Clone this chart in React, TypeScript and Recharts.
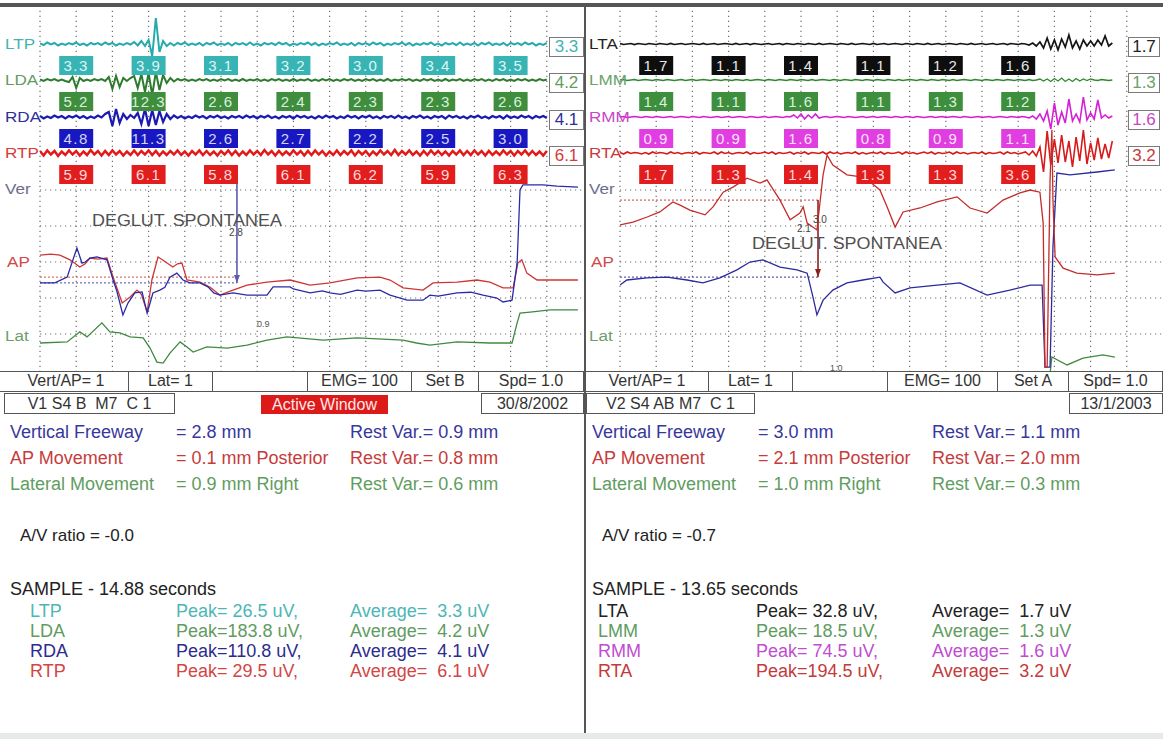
import { ComposedChart, Line, XAxis, YAxis, ReferenceLine, ReferenceDot } from "recharts"

const FONT = '"Liberation Sans", Arial, sans-serif'

// EMG samples are 0.1 s apart, the averages are taken over 2 s windows
const EMG_DT = 0.1
const SECONDS = [0, 1, 2, 3, 4, 5, 6, 7, 8, 9, 10, 11, 12, 13, 14]
const WINDOW_CENTRES = [1, 3, 5, 7, 9, 11, 13]
const MM_ROWS = [1, 2, 3, 4, 5]

// ---- V1 S4 B M7 C1, 30/8/2002 (uV around each channel's zero) ----
const ltp = [
  0.5, -1, 1.5, -0.5, 1, -1.5, 0.5, -1, 1, -0.5, 1.5, -1, 0.5, -1.5, 1, -0.5, 1, -1, 1.5, -0.5,
  1, -1.5, 0.5, -1, 1, -0.5, 2, -1.5, 3, -2, 4, -12, 26, -8, 3, -2, 1, -1.5, 1, -0.5,
  1.5, -1, 0.5, -1, 1, -1.5, 1, -0.5, 1.5, -1, 0.5, -1, 1, -1.5, 1, -0.5, 1, -1, 1.5, -1,
  0.5, -1.5, 1, -0.5, 1, -1, 1.5, -0.5, 1, -1.5, 0.5, -1, 1, -0.5, 1.5, -1, 1, -1.5, 0.5, -1,
  1, -0.5, 1.5, -1, 0.5, -1, 1, -1.5, 1, -0.5, 1, -1, 1.5, -0.5, 1, -1.5, 0.5, -1, 1, -0.5,
  1.5, -1, 1, -1.5, 0.5, -1, 1, -0.5, 1.5, -1, 0.5, -1.5, 1, -0.5, 1, -1, 1.5, -1, 0.5, -1,
  1, -1.5, 1, -0.5, 1.5, -1, 0.5, -1, 1, -1.5, 1, -0.5, 1, -1, 1.5, -0.5, 1, -1.5, 0.5, -1, 1,
]
const lda = [
  0.5, -1, 1, -0.5, 1, -1, 0.5, -1, -2, 3, -8, 2, -1, 0.5, -1, 1, -0.5, 1, -1, 3,
  -9, 4, -7, 2, -1, 2, 4, -8, 6, -12, 7, -15, 8, -10, 5, -3, 2, -1.5, 1, -0.5,
  1, -1, 0.5, -1, 1, -0.5, 1, -1, 0.5, -1, 1, -0.5, 1, -1, 0.5, -1, 1, -1, 0.5, -0.5,
  1, -1, 0.5, -1, 1, -0.5, 1, -1, 0.5, -1, 1, -1, 0.5, -0.5, 1, -1, 0.5, -1, 1, -0.5,
  1, -1, 0.5, -1, 1, -0.5, 1, -1, 0.5, -1, 1, -0.5, 1, -1, 0.5, -1, 1, -1, 0.5, -0.5,
  1, -0.5, 1, -1, 0.5, -1, 1, -0.5, 1, -1, 0.5, -1, 1, -1, 0.5, -0.5, 1, -1, 0.5, -1,
  1, -0.5, 1, -1, 0.5, -1, 1, -0.5, 1, -1, 0.5, -1, 1, -0.5, 1, -1, 0.5, -1, 1, -0.5, 0.5,
]
const rda = [
  1, -1.5, 0.5, -1, 1.5, -0.5, 1, -1.5, 1, -0.5, 1.5, -1, 1, -1.5, 0.5, -1, 1.5, -0.5, 3, 5,
  -9, 8, -6, 3, -2, 2, -1, 4, -7, 8, -9, 7, -8, 6, -5, 3, -2, 1.5, -1, 1,
  -1.5, 0.5, -1, 1.5, -0.5, 1, -1.5, 1, -0.5, 1.5, -1, 0.5, -1.5, 1, -0.5, 1, -1, 1.5, -0.5, 1,
  -1.5, 1, -0.5, 1.5, -1, 0.5, -1.5, 1, -0.5, 1, -1.5, 1.5, -0.5, 1, -1, 0.5, -1.5, 1, -1, 1.5,
  -0.5, 1, -1.5, 0.5, -1, 1.5, -0.5, 1, -1.5, 1, -0.5, 1.5, -1, 0.5, -1.5, 1, -0.5, 1, -1, 1.5,
  -1, 0.5, -1.5, 1, -0.5, 1.5, -1, 0.5, -1.5, 1, -0.5, 1, -1.5, 1.5, -0.5, 1, -1, 0.5, -1.5, 1,
  -0.5, 1.5, -1, 0.5, -1.5, 1, -0.5, 1, -1.5, 1.5, -1, 0.5, -1, 1.5, -0.5, 1, -1.5, 1, -0.5, 1, -1,
]
const rtp = [
  2, -2.5, 2.5, -1.5, 2, -3, 1.5, -2, 2.5, -1.5, 2, -2.5, 1.5, -2, 3, -1.5, 2, -2.5, 2, -2,
  2.5, -1.5, 2, -2.5, 1.5, -2, 2.5, -2, 2, -1.5, 2.5, -2, 2, -2.5, 1.5, -2, 2, -1.5, 2.5, -2,
  1.5, -2.5, 2, -1.5, 2.5, -2, 2, -2, 1.5, -2.5, 2, -1.5, 2.5, -2, 2, -2.5, 1.5, -2, 2.5, -1.5,
  2, -2, 3, -1.5, 2, -2.5, 2, -2, 1.5, -2, 2.5, -1.5, 2, -2.5, 2, -2, 2.5, -1.5, 2, -2.5,
  1.5, -2, 2.5, -2, 2, -1.5, 2.5, -2.5, 2, -1.5, 2, -2.5, 1.5, -2, 2.5, -1.5, 2, -2, 3, -2,
  2, -1.5, 2.5, -2, 1.5, -2.5, 2, -2, 2.5, -1.5, 2, -2, 1.5, -2.5, 2, -1.5, 2.5, -2, 2, -2,
  2.5, -1.5, 2, -2.5, 2, -2, 1.5, -2, 2.5, -1.5, 2, -2.5, 2, -1.5, 2.5, -2, 2, -2, 1.5, -2.5, 2,
]
const ltpAvg = [3.3, 3.9, 3.1, 3.2, 3.0, 3.4, 3.5]
const ldaAvg = [5.2, 12.3, 2.6, 2.4, 2.3, 2.3, 2.6]
const rdaAvg = [4.8, 11.3, 2.6, 2.7, 2.2, 2.5, 3.0]
const rtpAvg = [5.9, 6.1, 5.8, 6.1, 6.2, 5.9, 6.3]

// jaw tracking, [seconds, mm]
const v1Ver: [number, number][] = [
  [0, 2.42], [0.41, 2.42], [0.75, 2.58], [1.02, 3.39], [1.16, 2.97], [1.25, 3.0], [1.38, 3.11], [1.57, 3.14],
  [1.85, 3.06], [2.02, 2.5], [2.12, 2.2], [2.29, 1.53], [2.43, 1.86], [2.62, 2.14], [2.82, 2.17], [2.96, 1.58],
  [3.12, 2.14], [3.31, 2.22], [3.45, 2.3], [3.59, 2.58], [3.78, 2.69], [3.95, 2.5], [4.14, 2.42], [4.42, 2.42],
  [4.64, 2.31], [4.8, 2.14], [4.97, 2.08], [5.33, 2.14], [5.72, 2.08], [6.27, 2.08], [6.44, 2.31], [6.91, 2.31],
  [7.0, 2.25], [7.46, 2.14], [7.8, 2.2], [8.01, 2.14], [8.3, 2.1], [8.76, 2.22], [9.0, 2.19], [9.39, 2.22],
  [9.67, 2.08], [10.14, 1.94], [10.58, 1.94], [10.77, 2.08], [11.0, 2.05], [11.52, 2.14], [11.9, 2.16],
  [12.24, 2.08], [12.62, 2.0], [12.79, 1.89], [13.04, 1.94], [13.18, 2.97], [13.26, 5.0], [13.34, 5.14],
  [13.9, 5.14], [14.28, 5.11], [14.86, 5.08],
]
const v1Ap: [number, number][] = [
  [0, 3.19], [0.3, 3.22], [0.55, 3.19], [0.83, 3.06], [1.1, 2.86], [1.25, 2.95], [1.38, 3.11], [1.6, 3.08],
  [1.85, 3.11], [2.02, 2.58], [2.27, 1.86], [2.49, 2.03], [2.68, 2.22], [2.8, 2.1], [2.96, 1.61], [3.09, 2.5],
  [3.26, 3.14], [3.4, 3.05], [3.51, 2.97], [3.67, 2.86], [3.8, 2.95], [3.92, 2.97], [4.06, 2.5], [4.42, 2.44],
  [4.7, 2.3], [4.97, 2.08], [5.33, 2.22], [5.72, 2.36], [6.27, 2.44], [6.91, 2.5], [7.46, 2.36], [8.01, 2.42],
  [8.76, 2.56], [9.39, 2.58], [9.67, 2.5], [10.03, 2.28], [10.58, 2.22], [10.86, 2.42], [11.52, 2.44],
  [12.07, 2.5], [12.43, 2.44], [12.79, 2.28], [13.07, 2.28], [13.2, 2.97], [13.31, 3.06], [13.45, 2.69],
  [13.73, 2.5], [14.28, 2.5], [14.86, 2.5],
]
const v1Lat: [number, number][] = [
  [0, 0.75], [0.75, 0.78], [1.1, 1.06], [1.3, 0.92], [1.71, 1.31], [1.93, 1.06], [2.21, 1.03], [2.49, 0.92],
  [2.85, 0.89], [3.04, 0.61], [3.23, 0.22], [3.4, 0.19], [3.59, 0.47], [3.87, 0.78], [4.06, 0.64], [4.23, 0.5],
  [4.61, 0.64], [5.17, 0.61], [5.72, 0.69], [6.27, 0.83], [6.82, 0.92], [7.82, 0.83], [8.76, 0.89], [10.03, 0.83],
  [10.4, 0.75], [10.77, 0.69], [11.52, 0.78], [12.43, 0.75], [13.04, 0.75], [13.18, 1.31], [13.26, 1.58],
  [13.54, 1.61], [14.09, 1.67], [14.86, 1.67],
]

// ---- V2 S4 AB M7 C1, 13/1/2003 ----
const lta = [
  0.5, -0.5, 0, 0.5, -0.5, 0.5, 0, -0.5, 0.5, 0, -0.5, 0.5, 0, -0.5, 0.5, -0.5, 0, 0.5, -0.5, 0,
  0.5, 0, -0.5, 0.5, -0.5, 0, 0.5, -0.5, 0, 0.5, 0, -0.5, 0.5, -0.5, 0, 0.5, -0.5, 0.5, 0, -0.5,
  0, 0.5, -0.5, 0, 0.5, -0.5, 0.5, 0, -0.5, 0.5, 0, -0.5, 0.5, 0, -0.5, 0.5, -0.5, 0, 0.5, 0,
  -0.5, 0.5, 0, -0.5, 0.5, -0.5, 0, 0.5, 0, -0.5, 0.5, -0.5, 0, 0.5, -0.5, 0, 0.5, 0, -0.5, 0.5,
  0, -0.5, 0.5, 0, -0.5, 0.5, -0.5, 0, 0.5, -0.5, 0, 0.5, 0, -0.5, 0.5, 0, -0.5, 0.5, -0.5, 0,
  0.5, -0.5, 0, 0.5, -0.5, 0, 0.5, -0.5, 0.5, 0, -0.5, 0.5, 0, -1, 1, -2, 2, -4, 6, -5,
  4, -6, 5, -3, 9, -4, 3, -5, 4, -2, 3, -2, 4, -1, 8, -2, 1,
]
const lmm = [
  0, 0.5, -0.5, 0, 0.5, -0.5, 0, 0.5, 0, -0.5, 0.5, 0, -0.5, 0.5, 0, -0.5, 0, 0.5, -0.5, 0,
  0.5, -0.5, 0, 0.5, 0, -0.5, 0.5, 0, -0.5, 0.5, 0, -0.5, 0.5, 0, -0.5, 0.5, -0.5, 0, 0.5, 0,
  -0.5, 0.5, 0, -0.5, 0.5, 0, -0.5, 0.5, 0, -0.5, 0.5, 0, -0.5, 0.5, -0.5, 0, 0.5, 0, -0.5, 0.5,
  0, -0.5, 0.5, 0, -0.5, 0.5, 0, -0.5, 0.5, 0, -0.5, 0.5, 0, -0.5, 0.5, 0, -0.5, 0.5, -0.5, 0,
  0.5, 0, -0.5, 0.5, 0, -0.5, 0.5, 0, -0.5, 0.5, 0, -0.5, 0.5, -0.5, 0, 0.5, 0, -0.5, 0.5, 0,
  -0.5, 0.5, 0, -0.5, 0.5, 0, -0.5, 0.5, 0, -0.5, 0.5, 0, -0.5, 0.5, -0.5, 0, 1, -1, 1, -1.5,
  1.5, -1, 2, -1.5, 1, -1.5, 1.5, -1, 1, -0.5, 1, 0, -0.5, 0.5, 0, -0.5, 0,
]
const rmm = [
  0, 0.5, -0.5, 0, 0.5, 0, -0.5, 0.5, 0, -0.5, 0.5, 0, -0.5, 0, 0.5, -0.5, 0, 0.5, 0, -0.5,
  0.5, 0, -0.5, 0.5, 0, -0.5, 0, 0.5, -0.5, 0, 0.5, -0.5, 0, 0.5, 0, -0.5, 0.5, 0, -0.5, 0,
  0.5, -0.5, 0, 0.5, 0, -0.5, 0.5, 0, 2, -1, 3, -2, 2, -1, 3, -1, 0, 0.5, -0.5, 0,
  0.5, 0, -0.5, 0.5, 0, -0.5, 0, 0.5, -0.5, 0, 0.5, -0.5, 0, 0.5, 0, -0.5, 0.5, 0, -0.5, 0.5,
  0, -0.5, 0.5, 0, -0.5, 0, 0.5, -0.5, 0, 0.5, -0.5, 0, 0.5, 0, -0.5, 0.5, 0, -0.5, 0, 0.5,
  -0.5, 0, 0.5, -0.5, 0, 0.5, 0, -0.5, 0.5, 0, -0.5, 0.5, 0, -1, 1, -2, 3, -4, 6, -12,
  14, -8, 5, -6, 18, -4, 3, -5, 20, -3, 4, -2, 17, -1, 2, -1, 1,
]
const rta = [
  0.5, -1, 1, -0.5, 0.5, 0, -1, 0.5, -1, 1, -0.5, 0.5, 0, -1, 1, -0.5, 0.5, -1, 0, 0.5,
  -0.5, 1, -1, 0.5, 0, -0.5, 1, -1, 1, -0.5, 0.5, -1, 0, 0.5, -0.5, 1, -1, 0.5, -0.5, 0,
  1, -0.5, 1, -1, 0.5, -0.5, 0, 1, -1, 0.5, -0.5, 1, -1, 0.5, 0, -0.5, 1, -1, 1, -0.5,
  0.5, -1, 0, 0.5, -0.5, 1, -1, 0.5, -1, 0, 0.5, -0.5, 1, -1, 0.5, -0.5, 0, 1, -1, 1,
  -0.5, 0.5, -1, 0, 1, -0.5, 1, -1, 0.5, -0.5, 0, 1, -1, 1, -0.5, 0.5, -1, 0, 0.5, -0.5,
  1, -1, 0.5, -0.5, 0, 1, -1, 1, -0.5, 0.5, -1, 0, 1, -2, 2, -3, 6, -19, 22, -12,
  14, -10, 18, -9, 12, -14, 16, -8, 23, -11, 10, -7, 15, -6, 9, -5, 12,
]
const ltaAvg = [1.7, 1.1, 1.4, 1.1, 1.2, 1.6]
const lmmAvg = [1.4, 1.1, 1.6, 1.1, 1.3, 1.2]
const rmmAvg = [0.9, 0.9, 1.6, 0.8, 0.9, 1.1]
const rtaAvg = [1.7, 1.3, 1.4, 1.3, 1.3, 3.6]

const v2Ver: [number, number][] = [
  [0, 4.03], [0.36, 4.11], [0.75, 4.25], [1.1, 4.39], [1.46, 4.67], [1.66, 4.58], [1.93, 4.44], [2.35, 4.31],
  [2.57, 4.53], [2.85, 4.94], [3.12, 5.08], [3.51, 5.33], [3.87, 5.19], [4.06, 5.28], [4.42, 4.72], [4.7, 4.17],
  [4.97, 4.36], [5.06, 4.53], [5.17, 4.08], [5.44, 3.89], [5.61, 5.42], [5.72, 5.97], [5.88, 5.69], [6.27, 5.42],
  [6.71, 5.36], [6.91, 5.22], [7.18, 5.0], [7.38, 4.53], [7.6, 3.97], [7.82, 4.39], [8.29, 4.5], [8.76, 4.67],
  [9.31, 4.81], [9.67, 4.5], [10.14, 4.36], [10.58, 4.72], [11.05, 4.92], [11.33, 5.0], [11.6, 4.94],
  [11.69, 4.08], [11.74, 0.08], [11.8, 0.08], [11.88, 5.28], [11.93, 6.67], [11.96, 4.72], [12.02, 3.14],
  [12.24, 2.83], [12.62, 2.69], [13.18, 2.64], [13.67, 2.69],
]
const v2Ap: [number, number][] = [
  [0, 2.36], [0.19, 2.5], [0.75, 2.56], [1.3, 2.58], [1.85, 2.5], [2.29, 2.42], [2.76, 2.56], [3.23, 2.78],
  [3.59, 3.0], [3.95, 3.06], [4.42, 2.86], [4.89, 2.78], [5.17, 2.69], [5.33, 2.03], [5.44, 1.53], [5.61, 1.94],
  [5.88, 2.22], [6.27, 2.42], [6.71, 2.5], [7.18, 2.58], [7.27, 2.44], [7.6, 2.14], [8.01, 2.28], [8.76, 2.36],
  [9.39, 2.42], [10.14, 2.08], [10.77, 2.22], [11.33, 2.36], [11.66, 2.36], [11.74, 0.08], [11.88, 0.08],
  [11.96, 3.42], [12.07, 5.47], [12.43, 5.42], [13.18, 5.5], [13.67, 5.56],
]
const v2Lat: [number, number][] = [
  [11.86, -0.3], [11.93, 0.36], [12.35, 0.14], [12.79, 0.33], [13.34, 0.42], [13.67, 0.36],
]

// ---- layout ----
const PLOT_TOP = 8
const PLOT_H = 364
const MM_PX = 36
const MM_ZERO_ROW = 370

const pxDomain = (row: number, unitPx: number): [number, number] => [
  (row - PLOT_TOP - PLOT_H) / unitPx,
  (row - PLOT_TOP) / unitPx,
]
const emgRows = (values: number[]) => values.map((v, i) => ({ t: Math.round(i * EMG_DT * 10) / 10, v }))
const pairRows = (pts: [number, number][]) => pts.map(([t, v]) => ({ t, v }))

type Emg = {
  name: string
  values: number[]
  avgs: number[]
  total: number
  row: number
  line: string
  width: number
  box: string
  ink: string
  tag: string
}
type Move = { name: string; points: [number, number][]; color: string }
type Rest = { mm: number; until: number; color: string }
type Marker = { t: number; from: number; to: number; color: string }

const v1Channels: Emg[] = [
  { name: "LTP", values: ltp, avgs: ltpAvg, total: 3.3, row: 44, line: "#26abab", width: 2, box: "#38b4b4", ink: "#dcf7f7", tag: "#43b3b3" },
  { name: "LDA", values: lda, avgs: ldaAvg, total: 4.2, row: 80, line: "#2d7c2d", width: 2, box: "#3e8e3e", ink: "#dcf0dc", tag: "#5f9c5f" },
  { name: "RDA", values: rda, avgs: rdaAvg, total: 4.1, row: 117, line: "#1b1bb2", width: 2.2, box: "#1818c2", ink: "#d4d4f6", tag: "#2e2e9c" },
  { name: "RTP", values: rtp, avgs: rtpAvg, total: 6.1, row: 153, line: "#e31818", width: 2.5, box: "#e21d1d", ink: "#ffd8d8", tag: "#d63b3b" },
]
const v2Channels: Emg[] = [
  { name: "LTA", values: lta, avgs: ltaAvg, total: 1.7, row: 44, line: "#151515", width: 1.7, box: "#0e0e0e", ink: "#e8e8e8", tag: "#222222" },
  { name: "LMM", values: lmm, avgs: lmmAvg, total: 1.3, row: 80, line: "#2f8a2f", width: 1.3, box: "#3d8f3d", ink: "#dff0df", tag: "#6aa26a" },
  { name: "RMM", values: rmm, avgs: rmmAvg, total: 1.6, row: 117, line: "#d41fd4", width: 1.6, box: "#e03ee0", ink: "#ffe2ff", tag: "#c646c6" },
  { name: "RTA", values: rta, avgs: rtaAvg, total: 3.2, row: 153, line: "#d81a1a", width: 1.6, box: "#e21d1d", ink: "#ffd8d8", tag: "#c83a3a" },
]

const v1Moves: Move[] = [
  { name: "Lat", points: v1Lat, color: "#3f8a3f" },
  { name: "AP", points: v1Ap, color: "#cf3535" },
  { name: "Ver", points: v1Ver, color: "#2b2ba8" },
]
const v2Moves: Move[] = [
  { name: "Lat", points: v2Lat, color: "#3f8a3f" },
  { name: "AP", points: v2Ap, color: "#2b2b9c" },
  { name: "Ver", points: v2Ver, color: "#c42c2c" },
]

function avgBox(p: any, c: Emg, avg: number) {
  return (
    <g>
      <rect x={p.cx - 17} y={p.cy + 12} width={34} height={19} fill={c.box} />
      <text
        x={p.cx}
        y={p.cy + 27}
        textAnchor="middle"
        fill={c.ink}
        fontSize={15}
        letterSpacing={1.5}
        fontFamily={FONT}
      >
        {avg.toFixed(1)}
      </text>
    </g>
  )
}

function arrowHead(p: any, color: string) {
  return <polygon points={`${p.cx - 3},${p.cy - 8} ${p.cx + 3},${p.cy - 8} ${p.cx},${p.cy}`} fill={color} />
}

function Recording(props: {
  width: number
  left: number
  channels: Emg[]
  moves: Move[]
  rests: Rest[]
  marker: Marker
}) {
  const { width, left, channels, moves, rests, marker } = props
  return (
    <ComposedChart width={width} height={PLOT_H} margin={{ top: 0, right: 0, bottom: 0, left }}>
      <XAxis type="number" dataKey="t" domain={[0, 15]} hide allowDataOverflow />
      <YAxis yAxisId="mm" type="number" domain={pxDomain(MM_ZERO_ROW, MM_PX)} hide allowDataOverflow />
      {channels.map((c) => (
        <YAxis key={c.name} yAxisId={c.name} type="number" domain={pxDomain(c.row, 1)} hide allowDataOverflow />
      ))}
      {SECONDS.map((s) => (
        <ReferenceLine key={`s${s}`} x={s} yAxisId="mm" stroke="#6f6f6f" strokeWidth={1.2} strokeDasharray="1.2 3.8" />
      ))}
      {MM_ROWS.map((r) => (
        <ReferenceLine key={`r${r}`} y={r} yAxisId="mm" stroke="#6f6f6f" strokeWidth={1.2} strokeDasharray="1.2 3.8" />
      ))}
      {rests.map((r, i) => (
        <ReferenceLine
          key={`rest${i}`}
          yAxisId="mm"
          segment={[{ x: 0, y: r.mm }, { x: r.until, y: r.mm }]}
          stroke={r.color}
          strokeDasharray="2 2"
        />
      ))}
      <ReferenceLine
        yAxisId="mm"
        segment={[{ x: marker.t, y: marker.from }, { x: marker.t, y: marker.to }]}
        stroke={marker.color}
        strokeWidth={1.6}
      />
      {channels.map((c) => (
        <Line
          key={c.name}
          yAxisId={c.name}
          data={emgRows(c.values)}
          dataKey="v"
          type="linear"
          stroke={c.line}
          strokeWidth={c.width}
          dot={false}
          isAnimationActive={false}
        />
      ))}
      {moves.map((m) => (
        <Line
          key={m.name}
          yAxisId="mm"
          data={pairRows(m.points)}
          dataKey="v"
          type="linear"
          stroke={m.color}
          strokeWidth={1.3}
          dot={false}
          isAnimationActive={false}
        />
      ))}
      <ReferenceDot
        x={marker.t}
        y={marker.to}
        yAxisId="mm"
        r={0}
        ifOverflow="visible"
        shape={(p: any) => arrowHead(p, marker.color)}
      />
      {channels.flatMap((c) =>
        c.avgs.map((a, i) => (
          <ReferenceDot
            key={`${c.name}${i}`}
            x={WINDOW_CENTRES[i]}
            y={0}
            yAxisId={c.name}
            r={0}
            ifOverflow="visible"
            shape={(p: any) => avgBox(p, c, a)}
          />
        ))
      )}
    </ComposedChart>
  )
}

function Txt(props: {
  x: number
  y: number
  size: number
  color: string
  stretch?: number
  children: any
}) {
  const { x, y, size, color, stretch = 1, children } = props
  return (
    <div
      style={{
        position: "absolute",
        left: x,
        top: y - size * 0.5,
        fontSize: size,
        lineHeight: 1,
        color,
        whiteSpace: "pre",
        transform: `scaleX(${stretch})`,
        transformOrigin: "left center",
      }}
    >
      {children}
    </div>
  )
}

function Cell(props: { x0: number; x1: number; y: number; h: number; text: string; box?: boolean }) {
  const { x0, x1, y, h, text, box } = props
  return (
    <div
      style={{
        position: "absolute",
        left: x0,
        top: y,
        width: x1 - x0,
        height: h,
        boxSizing: "border-box",
        border: box ? "1px solid #555" : undefined,
        borderRight: "1px solid #555",
        fontSize: 16,
        lineHeight: `${h - 2}px`,
        textAlign: "center",
        color: "#333",
        whiteSpace: "pre",
      }}
    >
      {text}
    </div>
  )
}

function StatusRow(props: { x: number; width: number; cells: [string, number, number][] }) {
  return (
    <>
      <div
        style={{
          position: "absolute",
          left: props.x,
          top: 371,
          width: props.width,
          height: 21,
          borderTop: "1px solid #555",
          borderBottom: "1px solid #555",
          boxSizing: "border-box",
        }}
      />
      {props.cells.map(([t, a, b]) => (
        <Cell key={`${t}${a}`} x0={a} x1={b} y={371} h={21} text={t} />
      ))}
    </>
  )
}

function Summary(props: {
  x: number
  freeway: string[]
  ap: string[]
  lat: string[]
  ratio: string
  sample: string
  rows: [string, string, string, string][]
  labelX: number
  peakX: number
}) {
  const { x, freeway, ap, lat, ratio, sample, rows, labelX, peakX } = props
  const lines: [string[], string, number][] = [
    [freeway, "#37379c", 432],
    [ap, "#c63b3b", 458],
    [lat, "#5f9d5f", 484],
  ]
  return (
    <>
      {lines.map(([parts, color, y]) => (
        <div key={y}>
          <Txt x={x} y={y} size={18} color={color}>{parts[0]}</Txt>
          <Txt x={x + 166} y={y} size={18} color={color}>{parts[1]}</Txt>
          <Txt x={x + 340} y={y} size={18} color={color}>{parts[2]}</Txt>
        </div>
      ))}
      <Txt x={x + 10} y={535} size={17} color="#222">{ratio}</Txt>
      <Txt x={x} y={589} size={18} color="#222">{sample}</Txt>
      {rows.map(([name, peak, avg, color], i) => (
        <div key={name}>
          <Txt x={labelX} y={611 + i * 20} size={18} color={color}>{name}</Txt>
          <Txt x={peakX} y={611 + i * 20} size={18} color={color}>{peak}</Txt>
          <Txt x={x + 340} y={611 + i * 20} size={18} color={color}>{avg}</Txt>
        </div>
      ))}
    </>
  )
}

function TotalBox(props: { x: number; y: number; w: number; value: number; color: string }) {
  return (
    <div
      style={{
        position: "absolute",
        left: props.x,
        top: props.y,
        width: props.w,
        height: 20,
        boxSizing: "border-box",
        border: "1px solid #7a7a7a",
        background: "#fff",
        color: props.color,
        fontSize: 17,
        lineHeight: "18px",
        textAlign: "center",
      }}
    >
      {props.value.toFixed(1)}
    </div>
  )
}

export default function App() {
  return (
    <div
      style={{
        position: "absolute",
        left: 0,
        top: 0,
        width: 1163,
        height: 739,
        background: "#fff",
        fontFamily: FONT,
        overflow: "hidden",
      }}
    >
      <div style={{ position: "absolute", left: 0, top: 3, width: 1163, height: 4, background: "#555" }} />

      <div style={{ position: "absolute", left: 0, top: PLOT_TOP }}>
        <Recording
          width={583}
          left={40}
          channels={v1Channels}
          moves={v1Moves}
          rests={[
            { mm: 2.58, until: 5.44, color: "#d05050" },
            { mm: 2.42, until: 5.44, color: "#4a4aa8" },
          ]}
          marker={{ t: 5.44, from: 5.19, to: 2.42, color: "#5c5cae" }}
        />
      </div>
      <div style={{ position: "absolute", left: 586, top: PLOT_TOP }}>
        <Recording
          width={577}
          left={34}
          channels={v2Channels}
          moves={v2Moves}
          rests={[
            { mm: 4.72, until: 5.47, color: "#c04040" },
            { mm: 2.58, until: 5.47, color: "#3a3a9c" },
          ]}
          marker={{ t: 5.47, from: 4.72, to: 2.58, color: "#8e2020" }}
        />
      </div>

      <div style={{ position: "absolute", left: 584, top: 7, width: 2, height: 728, background: "#555" }} />

      {/* channel names */}
      {v1Channels.map((c) => (
        <Txt key={c.name} x={5} y={c.row} size={14} color={c.tag} stretch={1.22}>{c.name}</Txt>
      ))}
      {v2Channels.map((c) => (
        <Txt key={c.name} x={589} y={c.row} size={14} color={c.tag} stretch={1.22}>{c.name}</Txt>
      ))}
      {[5, 589].map((x) => (
        <div key={x}>
          <Txt x={x} y={189} size={14} color="#6c6c8e" stretch={1.22}>Ver</Txt>
          <Txt x={x + 2} y={262} size={14} color="#d04848" stretch={1.22}>AP</Txt>
          <Txt x={x} y={336} size={14} color="#6e9c6e" stretch={1.22}>Lat</Txt>
        </div>
      ))}

      {v1Channels.map((c) => (
        <TotalBox key={c.name} x={549} y={c.row - 7} w={35} value={c.total} color={c.tag} />
      ))}
      {v2Channels.map((c) => (
        <TotalBox key={c.name} x={1128} y={c.row - 7} w={32} value={c.total} color={c.tag} />
      ))}

      {/* annotations */}
      <Txt x={92} y={221} size={16} color="#505050" stretch={1.12}>DEGLUT. SPONTANEA</Txt>
      <Txt x={752} y={244} size={16} color="#505050" stretch={1.12}>DEGLUT. SPONTANEA</Txt>
      <Txt x={229} y={233} size={10} color="#444">2.8</Txt>
      <Txt x={257} y={324} size={9} color="#555">0.9</Txt>
      <Txt x={813} y={220} size={10} color="#444">3.0</Txt>
      <Txt x={797} y={229} size={10} color="#444">2.1</Txt>
      <Txt x={830} y={368} size={9} color="#555">1.0</Txt>

      {/* status bars */}
      <StatusRow
        x={0}
        width={584}
        cells={[
          ["Vert/AP= 1", 4, 129],
          ["Lat= 1", 129, 213],
          ["", 213, 308],
          ["EMG= 100", 308, 412],
          ["Set B", 412, 479],
          ["Spd= 1.0", 479, 584],
        ]}
      />
      <StatusRow
        x={586}
        width={577}
        cells={[
          ["Vert/AP= 1", 586, 709],
          ["Lat= 1", 709, 793],
          ["", 793, 888],
          ["EMG= 100", 888, 998],
          ["Set A", 998, 1069],
          ["Spd= 1.0", 1069, 1163],
        ]}
      />
      <Cell x0={4} x1={175} y={393} h={21} text="V1 S4 B  M7  C 1" box />
      <Cell x0={481} x1={584} y={393} h={21} text="30/8/2002" box />
      <Cell x0={586} x1={755} y={393} h={21} text="V2 S4 AB M7  C 1" box />
      <Cell x0={1069} x1={1163} y={393} h={21} text="13/1/2003" box />
      <div
        style={{
          position: "absolute",
          left: 261,
          top: 395,
          width: 127,
          height: 19,
          background: "#dd1a1a",
          color: "#ffe8e8",
          fontSize: 16,
          lineHeight: "19px",
          textAlign: "center",
        }}
      >
        Active Window
      </div>

      <Summary
        x={10}
        freeway={["Vertical Freeway", "= 2.8 mm", "Rest Var.= 0.9 mm"]}
        ap={["AP Movement", "= 0.1 mm Posterior", "Rest Var.= 0.8 mm"]}
        lat={["Lateral Movement", "= 0.9 mm Right", "Rest Var.= 0.6 mm"]}
        ratio="A/V ratio = -0.0"
        sample="SAMPLE - 14.88 seconds"
        labelX={30}
        peakX={176}
        rows={[
          ["LTP", "Peak= 26.5 uV,", "Average=  3.3 uV", "#4cb6b6"],
          ["LDA", "Peak=183.8 uV,", "Average=  4.2 uV", "#5f9c5f"],
          ["RDA", "Peak=110.8 uV,", "Average=  4.1 uV", "#2c2c8e"],
          ["RTP", "Peak= 29.5 uV,", "Average=  6.1 uV", "#d24646"],
        ]}
      />
      <Summary
        x={592}
        freeway={["Vertical Freeway", "= 3.0 mm", "Rest Var.= 1.1 mm"]}
        ap={["AP Movement", "= 2.1 mm Posterior", "Rest Var.= 2.0 mm"]}
        lat={["Lateral Movement", "= 1.0 mm Right", "Rest Var.= 0.3 mm"]}
        ratio="A/V ratio = -0.7"
        sample="SAMPLE - 13.65 seconds"
        labelX={598}
        peakX={756}
        rows={[
          ["LTA", "Peak= 32.8 uV,", "Average=  1.7 uV", "#222222"],
          ["LMM", "Peak= 18.5 uV,", "Average=  1.3 uV", "#5f9c5f"],
          ["RMM", "Peak= 74.5 uV,", "Average=  1.6 uV", "#c24cd0"],
          ["RTA", "Peak=194.5 uV,", "Average=  3.2 uV", "#c43a3a"],
        ]}
      />

      <div style={{ position: "absolute", left: 0, top: 733, width: 1163, height: 6, background: "#e6eaea" }} />
    </div>
  )
}
